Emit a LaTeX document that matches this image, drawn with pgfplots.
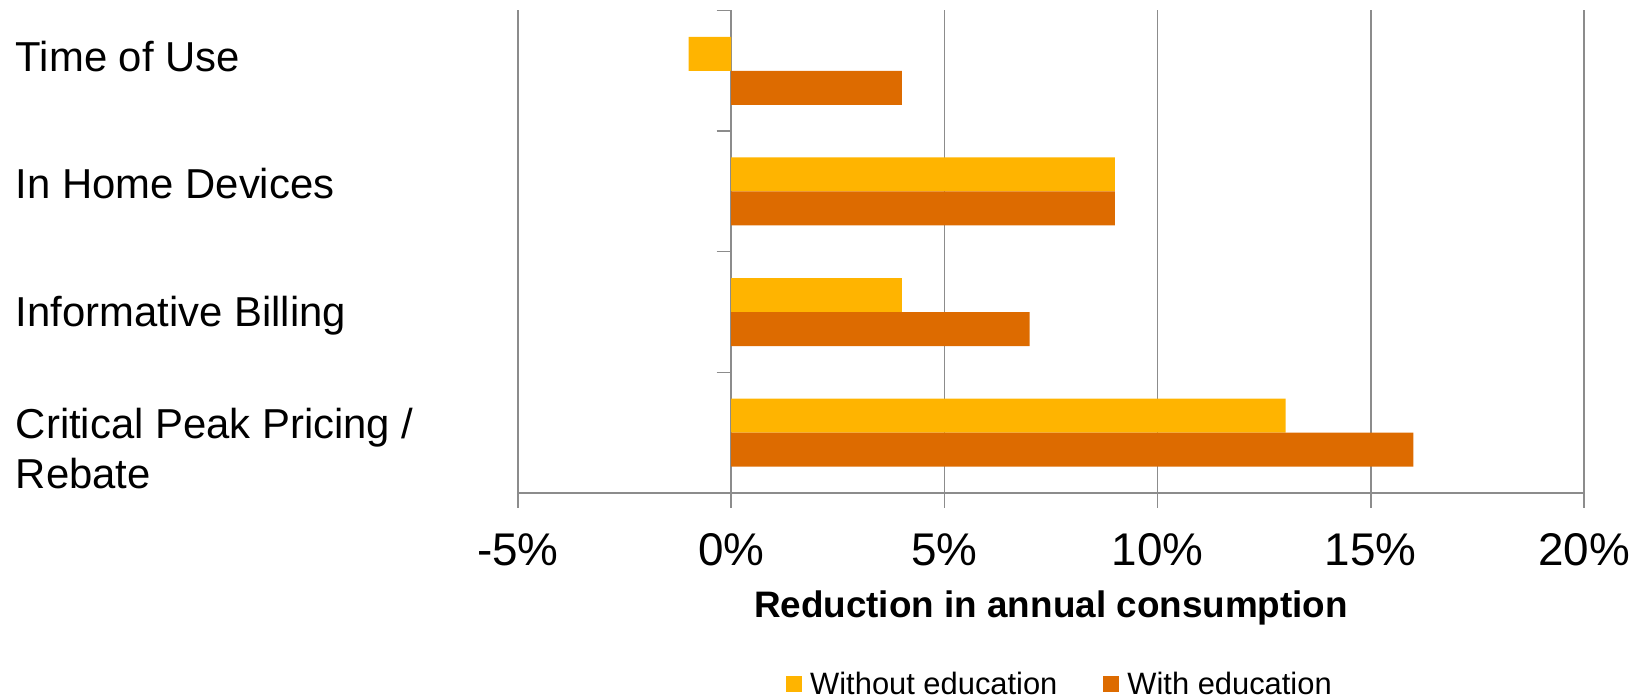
\documentclass[border=0pt]{standalone}
\usepackage{fontspec}
\setmainfont{Liberation Sans}
\usepackage{pgfplots}
\pgfplotsset{compat=1.18}
\definecolor{cyel}{RGB}{255,180,0}
\definecolor{cora}{RGB}{221,107,0}
\definecolor{cgr}{RGB}{140,140,140}
\begin{document}
\begin{tikzpicture}
\begin{axis}[
  at={(0,0)}, anchor=south west,
  scale only axis, width=1066bp, height=482.5bp,
  xmin=-5, xmax=20, ymin=-0.5, ymax=3.5,
  enlargelimits=false,
  axis x line*=bottom, axis y line=center,
  hide obscured x ticks=false, hide obscured y ticks=false,
  x axis line style={-, draw=cgr, line width=1.5bp},
  y axis line style={-, draw=cgr, line width=1.5bp},
  tick align=outside, major tick length=14.5bp,
  tick style={draw=cgr, line width=1.5bp},
  xmajorgrids, major grid style={draw=cgr, line width=1.5bp},
  xtick={-5,0,5,10,15,20},
  xticklabels={-5\%,0\%,5\%,10\%,15\%,20\%},
  xticklabel style={font=\fontsize{46}{50}\selectfont, anchor=base, inner sep=0pt, yshift=-57.5bp},
  ytick={-0.5,0.5,1.5,2.5,3.5},
  yticklabels={,,,,},
  extra y ticks={-0.459,0.884,1.943,2.9925},
  extra y tick labels={{Critical Peak Pricing /\\Rebate},{Informative Billing},{In Home Devices},{Time of Use}},
  extra y tick style={tick style={draw=none}},
  yticklabel style={font=\fontsize{42}{50}\selectfont, anchor=base west, align=left, inner sep=0pt, xshift=-701bp},
  xlabel={Reduction in annual consumption},
  xlabel style={font=\bfseries\fontsize{37}{40}\selectfont, at={(axis description cs:0.5,0)}, anchor=base, inner sep=0pt, yshift=-124bp},
  legend columns=2,
  legend style={at={(axis description cs:0.5075,0)}, anchor=center, yshift=-191bp, draw=none, fill=none,
    font=\fontsize{31}{34}\selectfont, inner sep=0pt, nodes={inner sep=0pt},
    /tikz/every even column/.append style={column sep=46bp},
    /tikz/every odd column/.append style={column sep=8bp}},
]
\addplot[xbar, fill=cyel, draw=none, bar width=34bp, bar shift=17bp,
  legend image code/.code={\fill[cyel] (0bp,-8bp) rectangle (16bp,8bp);}]
  coordinates {(13,0) (4,1) (9,2) (-1,3)};
\addplot[xbar, fill=cora, draw=none, bar width=34bp, bar shift=-17bp,
  legend image code/.code={\fill[cora] (0bp,-8bp) rectangle (16bp,8bp);}]
  coordinates {(16,0) (7,1) (9,2) (4,3)};
\legend{Without education, With education}
\end{axis}
\pgfresetboundingbox
\path (-518bp,-206bp) rectangle (1128bp,493bp);
\end{tikzpicture}
\end{document}
